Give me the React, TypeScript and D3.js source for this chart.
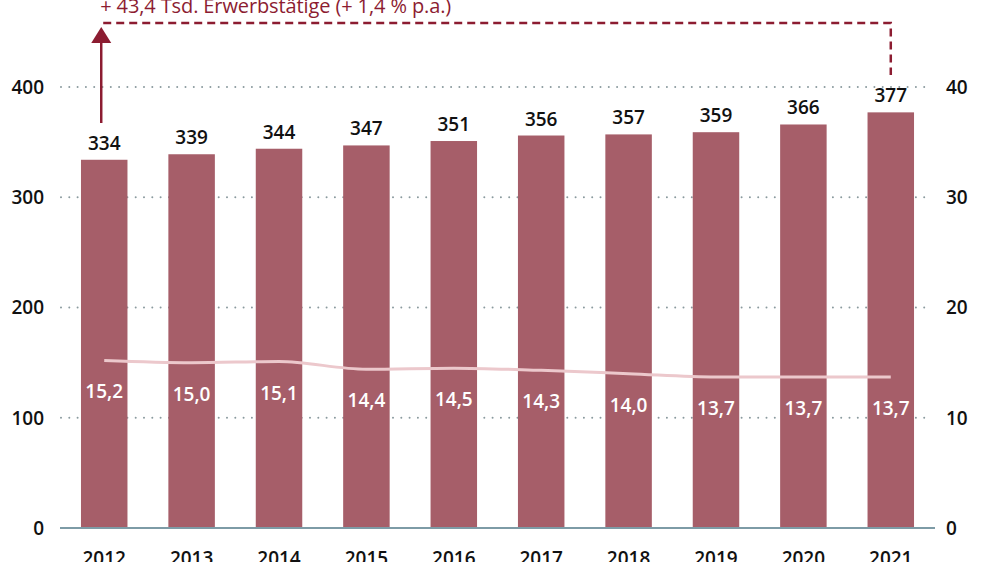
import { useEffect, useRef } from 'react';
import * as d3 from 'd3';

// Erwerbstätige (Tsd.) and Anteil (%) per year
const years = ['2012', '2013', '2014', '2015', '2016', '2017', '2018', '2019', '2020', '2021'];
const employed = [334, 339, 344, 347, 351, 356, 357, 359, 366, 377];
const share = [15.2, 15.0, 15.1, 14.4, 14.5, 14.3, 14.0, 13.7, 13.7, 13.7];
const leftTicks = [0, 100, 200, 300, 400];
const rightTicks = [0, 10, 20, 30, 40];
const annotation = '+ 43,4 Tsd. Erwerbstätige (+ 1,4 % p.a.)';

const W = 1000;
const H = 562;
const FONT = '"Open Sans", "Noto Sans", sans-serif';

export default function App() {
  const svgRef = useRef<SVGSVGElement>(null);

  useEffect(() => {
    if (!svgRef.current) return;
    const svg = d3.select(svgRef.current);
    svg.selectAll('*').remove();

    const barColor = '#a65e69';
    const accent = '#8c1c31';
    const lineColor = '#ecc8cc';

    const x = d3.scaleBand<string>()
      .domain(years)
      .range([60, 935])
      .paddingInner(0.468)
      .paddingOuter(0.24);

    const yLeft = d3.scaleLinear().domain([0, 400]).range([528, 87]);
    const yRight = d3.scaleLinear().domain([0, 40]).range([528, 87]);
    const cx = (d: string) => x(d)! + x.bandwidth() / 2;

    const g = svg.append('g');

    const label = (sel: d3.Selection<any, any, any, any>, size = 19, weight = 600) =>
      sel.attr('font-family', FONT)
        .attr('font-size', size)
        .attr('font-weight', weight);

    // dotted gridlines
    g.selectAll('.grid')
      .data(leftTicks.filter(t => t > 0))
      .join('line')
      .attr('x1', 61)
      .attr('x2', 930)
      .attr('y1', d => yLeft(d))
      .attr('y2', d => yLeft(d))
      .attr('stroke', '#8a9a9e')
      .attr('stroke-width', 2)
      .attr('stroke-linecap', 'round')
      .attr('stroke-dasharray', '0 8.3');

    // bars
    g.selectAll('.bar')
      .data(years)
      .join('rect')
      .attr('x', d => x(d)!)
      .attr('width', x.bandwidth())
      .attr('y', (d, i) => yLeft(employed[i]))
      .attr('height', (d, i) => yLeft(0) - yLeft(employed[i]))
      .attr('fill', barColor);

    // baseline
    g.append('line')
      .attr('x1', 60)
      .attr('x2', 935)
      .attr('y1', yLeft(0))
      .attr('y2', yLeft(0))
      .attr('stroke', '#7d9ba6')
      .attr('stroke-width', 2);

    // left axis labels
    label(g.selectAll('.ltick')
      .data(leftTicks)
      .join('text')
      .attr('x', 44)
      .attr('y', d => yLeft(d))
      .attr('dy', '0.36em')
      .attr('text-anchor', 'end')
      .attr('fill', '#111')
      .text(d => d));

    // right axis labels
    label(g.selectAll('.rtick')
      .data(rightTicks)
      .join('text')
      .attr('x', 946)
      .attr('y', d => yRight(d))
      .attr('dy', '0.36em')
      .attr('text-anchor', 'start')
      .attr('fill', '#111')
      .text(d => d));

    // year labels
    label(g.selectAll('.year')
      .data(years)
      .join('text')
      .attr('x', cx)
      .attr('y', 565)
      .attr('text-anchor', 'middle')
      .attr('fill', '#111')
      .text(d => d));

    // bar value labels
    label(g.selectAll('.val')
      .data(years)
      .join('text')
      .attr('x', cx)
      .attr('y', (d, i) => yLeft(employed[i]) - 10)
      .attr('text-anchor', 'middle')
      .attr('fill', '#111')
      .text((d, i) => employed[i]));

    // share line
    const line = d3.line<number>()
      .x((d, i) => cx(years[i]))
      .y(d => yRight(d))
      .curve(d3.curveMonotoneX);

    g.append('path')
      .datum(share)
      .attr('d', line)
      .attr('fill', 'none')
      .attr('stroke', lineColor)
      .attr('stroke-width', 3);

    // share labels
    label(g.selectAll('.share')
      .data(years)
      .join('text')
      .attr('x', cx)
      .attr('y', (d, i) => yRight(share[i]) + 38)
      .attr('text-anchor', 'middle')
      .attr('fill', '#fff')
      .text((d, i) => d3.format('.1f')(share[i]).replace('.', ',')));

    // annotation: arrow from first bar, dashed bracket to last bar
    const xFirst = cx(years[0]) - 3;
    const xLast = cx(years[years.length - 1]);
    const topY = 23;

    g.append('line')
      .attr('x1', xFirst)
      .attr('x2', xFirst)
      .attr('y1', 123)
      .attr('y2', 40)
      .attr('stroke', accent)
      .attr('stroke-width', 2.5);

    g.append('path')
      .attr('d', `M${xFirst},27 L${xFirst + 10},43 L${xFirst - 10},43 Z`)
      .attr('fill', accent);

    g.append('path')
      .attr('d', `M${xFirst + 2},${topY} H${xLast} V${75}`)
      .attr('fill', 'none')
      .attr('stroke', accent)
      .attr('stroke-width', 2.5)
      .attr('stroke-dasharray', '8 5');

    label(g.append('text')
      .attr('x', xFirst - 1)
      .attr('y', 13)
      .attr('fill', accent)
      .attr('textLength', 351)
      .attr('lengthAdjust', 'spacing')
      .text(annotation), 20, 400);
  }, []);

  return (
    <div style={{ position: 'absolute', left: 0, top: 0, width: W, height: H, overflow: 'hidden', background: '#fff' }}>
      <svg ref={svgRef} width={W} height={H} style={{ display: 'block' }} />
    </div>
  );
}
